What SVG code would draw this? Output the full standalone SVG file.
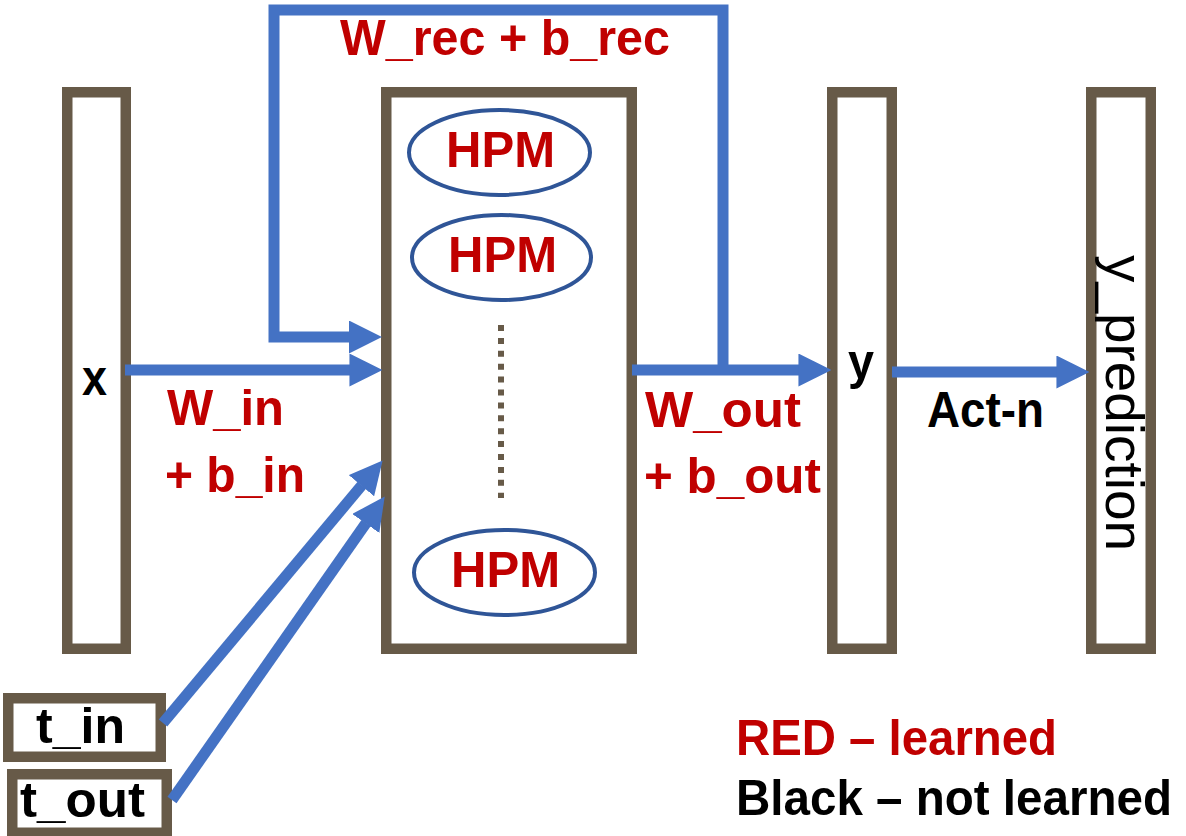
<svg xmlns="http://www.w3.org/2000/svg" width="1186" height="836" viewBox="0 0 1186 836">
<defs>
<style>
.box{fill:#ffffff;stroke:#675A48;stroke-width:10.5}
.hpm{fill:#ffffff;stroke:#2F5597;stroke-width:4}
.t{font-family:"Liberation Sans",Arial,sans-serif;font-weight:bold;font-size:50px}
.red{fill:#C00000}
.blk{fill:#000000}
.conn{fill:none;stroke:#4472C4;stroke-width:11;stroke-linejoin:miter}
.dots{stroke:#675A48;stroke-width:6;stroke-dasharray:6 6.9}
</style>
<marker id="ah" viewBox="0 -1.5 3 3" refX="0.05" refY="0" markerWidth="3" markerHeight="3" markerUnits="strokeWidth" orient="auto">
<path d="M0,-1.5 L3,0 L0,1.5 z" fill="#4472C4"/>
</marker>
</defs>
<rect width="1186" height="836" fill="#ffffff"/>

<g id="node-x">
<rect class="box" x="67.25" y="92.25" width="58.5" height="556.5"/>
<text class="t blk" x="82" y="395" textLength="25" lengthAdjust="spacingAndGlyphs">x</text>
</g>

<g id="node-hidden">
<rect class="box" x="386.25" y="92.25" width="245.5" height="556.5"/>
<line class="dots" x1="501" y1="325" x2="501" y2="498"/>
</g>

<g id="node-hpm1">
<ellipse class="hpm" cx="499.5" cy="152.5" rx="90.5" ry="42.5"/>
<text class="t red" x="500.5" y="167" text-anchor="middle" textLength="109" lengthAdjust="spacingAndGlyphs">HPM</text>
</g>
<g id="node-hpm2">
<ellipse class="hpm" cx="501.5" cy="257.5" rx="89.5" ry="42.5"/>
<text class="t red" x="502.5" y="272" text-anchor="middle" textLength="109" lengthAdjust="spacingAndGlyphs">HPM</text>
</g>
<g id="node-hpm3">
<ellipse class="hpm" cx="504.5" cy="572.5" rx="90.5" ry="42.5"/>
<text class="t red" x="505.5" y="587" text-anchor="middle" textLength="109" lengthAdjust="spacingAndGlyphs">HPM</text>
</g>

<g id="node-y">
<rect class="box" x="832.25" y="92.25" width="59.5" height="556.5"/>
<text class="t blk" x="848" y="379" textLength="26" lengthAdjust="spacingAndGlyphs">y</text>
</g>

<g id="node-ypred">
<rect class="box" x="1091.25" y="92.25" width="59.5" height="556.5"/>
<text transform="translate(1106,255) rotate(90)" x="0" y="0" font-family="Liberation Sans, Arial, sans-serif" font-size="53" fill="#000000" textLength="296" lengthAdjust="spacingAndGlyphs">y_prediction</text>
</g>

<g id="node-tin">
<rect class="box" x="8.25" y="698.25" width="152.5" height="58.5"/>
<text class="t blk" x="36" y="743" textLength="89" lengthAdjust="spacingAndGlyphs">t_in</text>
</g>

<g id="node-tout">
<rect class="box" x="12.25" y="774.25" width="154.5" height="58.5"/>
<text class="t blk" x="20" y="817" textLength="125" lengthAdjust="spacingAndGlyphs">t_out</text>
</g>

<g id="connectors">
<path class="conn" d="M723,372 L723,10 L274,10 L274,337 L349.5,337" marker-end="url(#ah)"/>
<path class="conn" d="M125,370 L350,370" marker-end="url(#ah)"/>
<path class="conn" d="M632,370 L799,370" marker-end="url(#ah)"/>
<path class="conn" d="M892,372 L1057,372" marker-end="url(#ah)"/>
<path class="conn" d="M163,723 L361.8,485.3" marker-end="url(#ah)"/>
<path class="conn" d="M172,800 L366.1,523" marker-end="url(#ah)"/>
</g>

<g id="labels">
<text class="t red" x="340" y="55" textLength="330" lengthAdjust="spacingAndGlyphs">W_rec + b_rec</text>
<text class="t red" x="167" y="425" textLength="117" lengthAdjust="spacingAndGlyphs">W_in</text>
<text class="t red" x="165" y="492" textLength="140" lengthAdjust="spacingAndGlyphs">+ b_in</text>
<text class="t red" x="645" y="427" textLength="156" lengthAdjust="spacingAndGlyphs">W_out</text>
<text class="t red" x="644" y="493" textLength="177" lengthAdjust="spacingAndGlyphs">+ b_out</text>
<text class="t blk" x="927" y="427" textLength="117" lengthAdjust="spacingAndGlyphs">Act-n</text>
<text class="t red" x="736" y="755" textLength="321" lengthAdjust="spacingAndGlyphs">RED – learned</text>
<text class="t blk" x="736" y="815" font-size="47" textLength="436" lengthAdjust="spacingAndGlyphs">Black – not learned</text>
</g>
</svg>
